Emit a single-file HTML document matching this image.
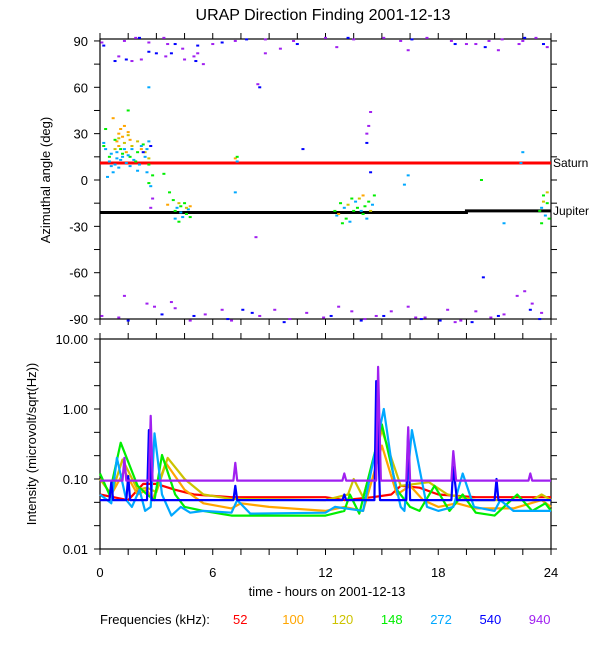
<!DOCTYPE html>
<html><head><meta charset="utf-8">
<style>
html,body{margin:0;padding:0;background:#fff;}
svg{display:block;font-family:"Liberation Sans",Arial,sans-serif;}
</style></head>
<body>
<svg id="chart" width="600" height="650" viewBox="0 0 600 650" xmlns="http://www.w3.org/2000/svg">
<text x="323" y="20" font-size="16" text-anchor="middle">URAP Direction Finding  2001-12-13</text>
<text transform="translate(50,180) rotate(-90)" font-size="13" text-anchor="middle">Azimuthal angle (deg)</text>
<text transform="translate(36,444) rotate(-90)" font-size="13" text-anchor="middle">Intensity (microvolt/sqrt(Hz))</text>
<text x="327" y="596" font-size="13" text-anchor="middle">time - hours on 2001-12-13</text>
<g id="legend">
<text x="100" y="624" font-size="13">Frequencies (kHz):</text>
</g>
<g id="topPanel"></g>
<g id="botPanel"></g>
</svg>
<script>
const colors=['#ff0000','#ffa500','#cdc300','#00ee00','#00a8ff','#0000ff','#a020f0'];
const freqLabels=['52','100','120','148','272','540','940'];
const xTicks=[0,6,12,18,24];
const angleTicks=[90,60,30,0,-30,-60,-90];
const intTicks=[10,1,0.1,0.01];
const intTickLabels=['10.00','1.00','0.10','0.01'];
const saturnAngle=11;
const jupiterT=[0,19.5,19.5,24];
const jupiterA=[-21,-21,-20,-20];
// scatter points: [hour, angle, colorIndex]
const scatter=[
[1,30,1],[1.1,33,1],[1.2,28,1],[0.9,25,1],[1.3,35,1],[1.5,31,1],[0.7,40,1],[1.6,26,1],[1.0,22,1],[2.2,20,1],[1.4,18,1],
[1.0,27,2],[1.3,24,2],[1.7,22,2],[2.0,25,2],[2.4,18,2],[0.8,20,2],[1.5,29,2],[2.6,14,2],
[0.3,33,3],[0.8,26,3],[1.1,20,3],[1.6,15,3],[2.0,18,3],[2.3,23,3],[0.5,15,3],[1.9,12,3],[2.6,10,3],[1.5,45,3],[2.8,3,3],[2.6,-2,3],[3.4,4,3],[3.7,-8,3],[1.2,17,3],[0.2,22,3],
[0.3,20,4],[0.6,17,4],[0.9,14,4],[0.5,12,4],[1.0,8,4],[0.7,5,4],[1.2,15,4],[1.4,11,4],[1.6,9,4],[1.8,13,4],[2.1,10,4],[2.4,15,4],[0.4,2,4],[0.2,24,4],[1.3,20,4],[2.0,6,4],[2.5,5,4],[1.1,13,4],[2.7,-4,4],[0.8,10,4],[1.7,20,4],[2.2,22,4],[2.5,20,4],[2.6,25,4],[2.6,60,4],[0.9,18,4],[1.5,16,4],[0.6,9,4],
[2.3,18,5],[2.7,22,5],[2.8,-12,6],[2.7,-18,6],
[4.0,-20,3],[4.3,-17,3],[4.6,-22,3],[4.2,-27,3],[3.9,-13,3],[4.5,-15,3],[4.8,-24,3],
[4.1,-18,4],[4.4,-24,4],[4.0,-25,4],[4.7,-19,4],[4.3,-21,4],[4.6,-18,2],[4.2,-15,2],[4.8,-17,1],[3.6,-16,1],[7.2,14,1],
[12.5,-20,3],[12.8,-15,3],[13.1,-25,3],[13.4,-12,3],[13.7,-18,3],[14,-22,3],[14.3,-14,3],[14.6,-10,3],[12.9,-28,3],[13.5,-20,3],[14.1,-17,3],
[12.6,-23,4],[13,-18,4],[13.3,-27,4],[13.6,-14,4],[13.9,-20,4],[14.2,-25,4],[14.5,-16,4],
[13.2,-16,2],[13.8,-12,2],[14.4,-20,2],[12.7,-22,1],[14,-10,1],
[23.4,-20,3],[23.6,-10,3],[23.8,-15,3],[23.5,-28,3],[23.9,-25,3],[23.5,-18,4],[23.7,-23,4],[23.8,-8,2],[23.6,-14,2],
[7.3,12,4],[7.2,-8,4],[16.2,-3,4],[16.4,3,4],[21.5,-28,4],[22.4,11,4],[22.5,18,4],[7.3,15,3],[20.3,0,3],
[10.8,20,5],[14.2,24,5],[14.4,5,5],[8.5,60,5],[8.3,-37,6],[8.4,62,6],[14.4,44,6],[14.2,30,6],[14.3,35,6],
[0.1,89,6],[1.3,90,6],[1.9,92,6],[2.6,89,6],[3.4,92,6],[3.6,88,6],[4.4,85,6],[6.0,88,6],[7.2,90,6],[8.8,91,6],[10.3,90,6],[12,92,6],[13.5,91,6],[15.1,92,6],[16,90,6],[17.4,92,6],[18.7,90,6],[19.5,88,6],[20.7,90,6],[21.4,91,6],[22.3,88,6],[23.2,92,6],[23.8,86,6],[1,80,6],[1.7,77,6],[2.2,78,6],[3.5,80,6],[4.5,78,6],[5.0,80,6],[5.5,75,6],[8.8,82,6],[9.6,85,6],[12.6,86,6],[20,88,6],[22.5,90,6],[21.2,84,6],[16.4,84,6],[5.2,82,6],
[0.2,87,5],[2.1,92,5],[2.6,83,5],[3.0,82,5],[4.0,88,5],[5.2,87,5],[6.5,89,5],[7.8,91,5],[10.5,88,5],[13.2,92,5],[16.6,91,5],[18.9,88,5],[20.5,86,5],[22.6,92,5],[23.6,88,5],[0.8,77,5],[1.4,78,5],[3.8,82,5],[5.1,77,5],
[0.1,-88,6],[1.0,-89,6],[1.3,-75,6],[2.5,-80,6],[3.8,-79,6],[4.0,-83,6],[5.6,-87,6],[7.0,-91,6],[8.5,-88,6],[9.3,-84,6],[10.1,-90,6],[11.0,-86,6],[11.9,-89,6],[12.7,-82,6],[13.4,-85,6],[14.1,-90,6],[14.7,-88,6],[15.5,-85,6],[16.4,-82,6],[17.3,-89,6],[18.5,-84,6],[19.2,-91,6],[20.0,-85,6],[20.8,-89,6],[21.5,-87,6],[22.2,-75,6],[22.6,-72,6],[23.0,-80,6],[23.5,-86,6],[6.5,-84,6],[4.8,-91,6],[2.9,-82,6],[18.9,-92,6],[16.8,-89,6],
[1.5,-91,5],[3.3,-87,5],[5.0,-88,5],[6.8,-90,5],[8.1,-86,5],[9.8,-92,5],[12.3,-88,5],[13.9,-91,5],[15.1,-88,5],[17.1,-90,5],[18.1,-91,5],[19.8,-92,5],[21.2,-88,5],[22.9,-84,5],[23.4,-90,5],[20.4,-63,5],[7.6,-84,5]
];
// intensity series
const t52=[0,1.5,2.3,3.0,4.0,5.0,7,12,13,14.5,15.5,16,17,18,20,24];
const v52=[0.06,0.05,0.085,0.085,0.07,0.06,0.055,0.055,0.05,0.055,0.06,0.08,0.075,0.06,0.055,0.055];
const t100=[0,0.6,1.3,2,2.5,2.8,3.5,4.5,5.5,7,7.5,9,12,13,14,15,15.8,16.5,17.2,18,19,20,22,23.5,24];
const v100=[0.1,0.06,0.13,0.06,0.07,0.05,0.17,0.07,0.045,0.038,0.045,0.04,0.035,0.04,0.035,0.3,0.06,0.08,0.05,0.04,0.045,0.038,0.038,0.05,0.04];
const t120=[0,0.6,1.2,2,2.5,3,3.6,4.5,5.5,7,12,13.2,13.5,14,15,16,17.5,18.5,20,23,23.5,24];
const v120=[0.1,0.06,0.19,0.07,0.075,0.065,0.2,0.1,0.06,0.052,0.05,0.06,0.1,0.055,0.5,0.08,0.09,0.06,0.05,0.05,0.06,0.05];
const t148=[0,0.5,1.1,2,2.5,2.9,3.3,4,4.5,5.5,7,12,13,13.3,13.8,15,15.8,16.5,17,17.8,18.6,19.3,20,21,22.2,23,23.7,24];
const v148=[0.12,0.06,0.33,0.08,0.06,0.05,0.22,0.06,0.04,0.035,0.03,0.03,0.035,0.06,0.032,0.6,0.07,0.04,0.035,0.08,0.035,0.06,0.033,0.03,0.06,0.035,0.045,0.035];
const t272=[0,0.6,0.9,1.4,1.7,2.1,2.4,2.7,2.9,3.3,3.8,4.3,4.8,5.5,7,7.3,8,12,12.5,14,15.1,15.6,16,16.2,16.6,17.4,18,18.8,19.3,19.9,21,21.3,22,24];
const v272=[0.06,0.045,0.2,0.05,0.04,0.07,0.035,0.04,0.45,0.06,0.03,0.04,0.033,0.035,0.033,0.05,0.032,0.033,0.04,0.035,1.0,0.12,0.04,0.035,0.5,0.04,0.035,0.04,0.12,0.04,0.035,0.05,0.035,0.035];
const t540=[0,0.5,0.6,0.7,1.4,1.5,1.6,2.5,2.6,2.75,7.1,7.2,7.3,12.9,13,13.1,14.6,14.7,14.9,16.3,16.4,16.5,18.7,18.8,19.0,21.0,21.1,21.2,24];
const v540=[0.05,0.05,0.09,0.05,0.05,0.11,0.05,0.05,0.5,0.05,0.05,0.08,0.05,0.05,0.06,0.05,0.05,2.5,0.05,0.05,0.5,0.05,0.05,0.15,0.05,0.05,0.1,0.05,0.05];
const t940=[0,1.2,1.3,1.4,2.6,2.7,2.8,7.1,7.2,7.3,12.9,13,13.1,14.7,14.8,14.95,16.3,16.4,16.5,18.7,18.8,18.95,22.8,22.9,23.0,24];
const v940=[0.095,0.095,0.2,0.095,0.095,0.8,0.095,0.095,0.17,0.095,0.095,0.12,0.095,0.095,4.0,0.095,0.095,0.55,0.095,0.095,0.25,0.095,0.095,0.12,0.095,0.095];
const seriesT=[t52,t100,t120,t148,t272,t540,t940];
const seriesV=[v52,v100,v120,v148,v272,v540,v940];

const NS='http://www.w3.org/2000/svg';
const X0=100,X1=551,TT=39,TB=319,BT=339,BB=549;
const xs=t=>X0+t*(X1-X0)/24;
const ya=a=>180-a*1.545;
const yi=v=>BT+(1-Math.log10(v))*70;
function mk(tag,attrs,parent){const e=document.createElementNS(NS,tag);for(const k in attrs)e.setAttribute(k,attrs[k]);parent.appendChild(e);return e;}
const gTop=document.getElementById('topPanel'),gBot=document.getElementById('botPanel'),gLeg=document.getElementById('legend');

freqLabels.forEach((f,i)=>{const e=mk('text',{x:233+i*49.3,y:624,'font-size':13,fill:colors[i]},gLeg);e.textContent=f;

});

function frame(g,yT,yB,name){
 const r=mk('rect',{x:X0,y:yT,width:X1-X0,height:yB-yT,fill:'none',stroke:'#000','stroke-width':1.2},g);
 
 
 for(let h=0;h<=24;h+=1.5){const x=xs(h);
  mk('line',{x1:x,y1:yT,x2:x,y2:yT-6,stroke:'#000'},g);
  mk('line',{x1:x,y1:yB,x2:x,y2:yB+6,stroke:'#000'},g);}
}
frame(gTop,TT,TB,'azimuth-plot-frame');
frame(gBot,BT,BB,'intensity-plot-frame');
for(let a=-90;a<=90;a+=15){const y=ya(a);
 mk('line',{x1:X0,y1:y,x2:X0-6,y2:y,stroke:'#000'},gTop);
 mk('line',{x1:X1,y1:y,x2:X1+6,y2:y,stroke:'#000'},gTop);}
angleTicks.forEach(a=>{const e=mk('text',{x:88,y:ya(a)+5,'font-size':13,'text-anchor':'end'},gTop);e.textContent=a;

});
for(let k=0;k<=9;k++){const y=BT+k*70/3;
 mk('line',{x1:X0,y1:y,x2:X0-6,y2:y,stroke:'#000'},gBot);
 mk('line',{x1:X1,y1:y,x2:X1+6,y2:y,stroke:'#000'},gBot);}
intTicks.forEach((v,i)=>{const e=mk('text',{x:88,y:yi(v)+5,'font-size':13,'text-anchor':'end'},gBot);e.textContent=intTickLabels[i];

});
xTicks.forEach(h=>{const e=mk('text',{x:xs(h),y:577,'font-size':13,'text-anchor':'middle'},gBot);e.textContent=h;

});

const sl=mk('line',{x1:X0,x2:X1,y1:ya(saturnAngle),y2:ya(saturnAngle),stroke:'#ff0000','stroke-width':3},gTop);


const jl=mk('polyline',{points:jupiterT.map((t,i)=>xs(t)+','+ya(jupiterA[i])).join(' '),fill:'none',stroke:'#000','stroke-width':3},gTop);


const st=mk('text',{x:553,y:ya(saturnAngle)+4,'font-size':12},gTop);st.textContent='Saturn';


const jt=mk('text',{x:553,y:ya(-20)+4,'font-size':12},gTop);jt.textContent='Jupiter';



scatter.forEach(p=>{const r=mk('rect',{x:xs(p[0])-1.5,y:ya(p[1])-1,width:3,height:2,fill:colors[p[2]]},gTop);

});

seriesT.forEach((ts,i)=>{const pl=mk('polyline',{points:ts.map((t,j)=>xs(t).toFixed(1)+','+yi(seriesV[i][j]).toFixed(1)).join(' '),fill:'none',stroke:colors[i],'stroke-width':2.2,'stroke-linejoin':'round'},gBot);

});
</script>
</body></html>
